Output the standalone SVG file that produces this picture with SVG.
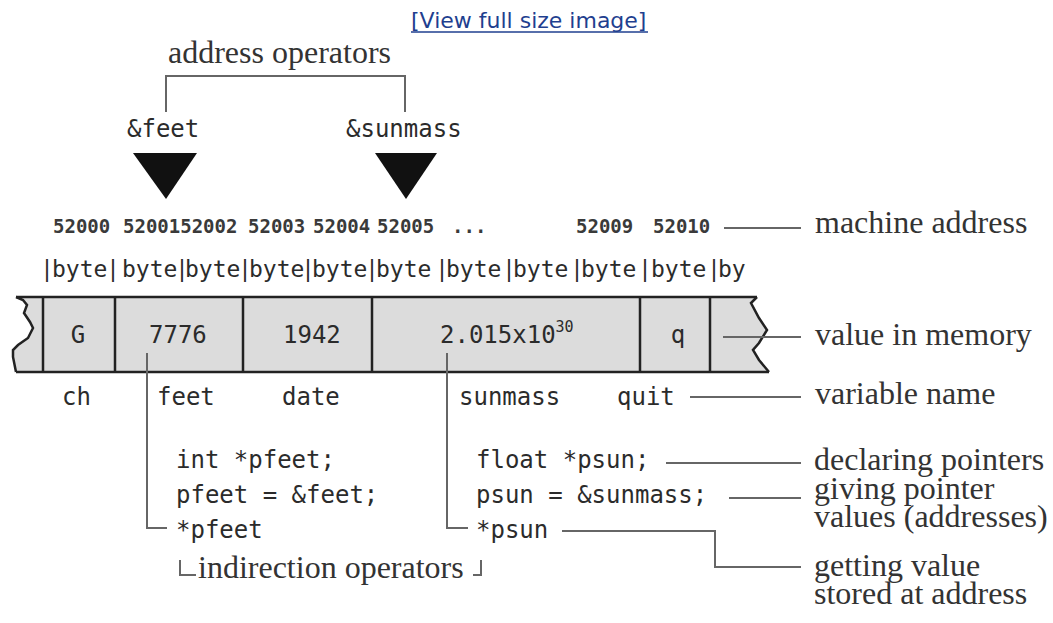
<svg xmlns="http://www.w3.org/2000/svg" width="1053" height="623" viewBox="0 0 1053 623">
<style>
.serif{font-family:"Liberation Serif","Times New Roman",serif;font-size:32px;fill:#333}
.mono{font-family:"DejaVu Sans Mono","Liberation Mono",monospace;font-size:24px;fill:#2b2b2b}
.addr{font-family:"DejaVu Sans Mono","Liberation Mono",monospace;font-size:19px;font-weight:bold;fill:#3a3a3a}
.byte{font-family:"DejaVu Sans Mono","Liberation Mono",monospace;font-size:23px;fill:#2b2b2b}
.bar{font-family:"Liberation Sans",Arial,sans-serif}
.link{font-family:"DejaVu Sans","Verdana",sans-serif;font-size:22px;fill:#1f3f8f}
.ln{fill:none;stroke:#666;stroke-width:2}
.cell{fill:none;stroke:#222;stroke-width:2.5}
</style>
<rect width="1053" height="623" fill="#fff"/>

<g id="link">
<text class="link" x="411" y="28">[View full size image]</text>
<line x1="411" y1="32" x2="648" y2="32" stroke="#1f3f8f" stroke-width="1.5"/>
</g>

<g id="address-operators">
<text class="serif" x="168" y="63">address operators</text>
<text class="mono" x="127" y="137">&amp;feet</text>
<text class="mono" x="346" y="137">&amp;sunmass</text>
<polygon points="133,153 197,153 166,199" fill="#111"/>
<polygon points="375,153 437,153 406,199" fill="#111"/>
</g>

<g id="addresses">
<text class="addr" y="233"><tspan x="53">52000</tspan><tspan x="123">5200152002</tspan><tspan x="248">52003</tspan><tspan x="313">52004</tspan><tspan x="377">52005</tspan><tspan x="452">...</tspan><tspan x="576">52009</tspan><tspan x="653">52010</tspan></text>
<text class="serif" x="815" y="233">machine address</text>
</g>

<g id="bytes">
<text class="byte" y="277"><tspan class="bar" x="44">|</tspan><tspan x="52">byte</tspan><tspan class="bar" x="110">|</tspan><tspan x="122">byte</tspan><tspan class="bar" x="179">|</tspan><tspan x="185">byte</tspan><tspan class="bar" x="242">|</tspan><tspan x="249">byte</tspan><tspan class="bar" x="305">|</tspan><tspan x="312">byte</tspan><tspan class="bar" x="369">|</tspan><tspan x="376">byte</tspan><tspan class="bar" x="439">|</tspan><tspan x="446">byte</tspan><tspan class="bar" x="506">|</tspan><tspan x="513">byte</tspan><tspan class="bar" x="574">|</tspan><tspan x="581">byte</tspan><tspan class="bar" x="642">|</tspan><tspan x="651">byte</tspan><tspan class="bar" x="711">|</tspan><tspan x="718">by</tspan></text>
</g>

<g id="memory">
<polygon points="16,297 23,300 27,305 24,313 30,322 33,328 28,338 18,345 13,350 13,357 16,372 769,372 759,360 753,350 759,343 767,330 759,318 751,303 757,297" fill="#dcdcdc"/>
<line class="cell" x1="16" y1="297" x2="757" y2="297"/>
<line class="cell" x1="16" y1="372" x2="769" y2="372"/>
<polyline class="cell" points="16,297 23,300 27,305 24,313 30,322 33,328 28,338 18,345 13,350 13,357 16,372"/>
<polyline class="cell" points="757,297 751,303 759,318 767,330 759,343 753,350 759,360 769,372"/>
<line class="cell" x1="43" y1="297" x2="43" y2="372"/>
<line class="cell" x1="115" y1="297" x2="115" y2="372"/>
<line class="cell" x1="243" y1="297" x2="243" y2="372"/>
<line class="cell" x1="372" y1="297" x2="372" y2="372"/>
<line class="cell" x1="640" y1="297" x2="640" y2="372"/>
<line class="cell" x1="710" y1="297" x2="710" y2="372"/>
<text class="mono" x="78" y="343" text-anchor="middle">G</text>
<text class="mono" x="149" y="343">7776</text>
<text class="mono" x="283" y="343">1942</text>
<text class="mono" x="440" y="343">2.015x10<tspan font-size="15" dy="-11">30</tspan></text>
<text class="mono" x="678" y="343" text-anchor="middle">q</text>
<text class="serif" x="815" y="345">value in memory</text>
</g>

<g id="names">
<text class="mono" x="62" y="405">ch</text>
<text class="mono" x="157" y="405">feet</text>
<text class="mono" x="282" y="405">date</text>
<text class="mono" x="459" y="405">sunmass</text>
<text class="mono" x="617" y="405">quit</text>
<text class="serif" x="815" y="404">variable name</text>
</g>

<g id="code">
<text class="mono" x="176" y="468">int *pfeet;</text>
<text class="mono" x="176" y="503">pfeet = &amp;feet;</text>
<text class="mono" x="176" y="538">*pfeet</text>
<text class="mono" x="476" y="468">float *psun;</text>
<text class="mono" x="476" y="503">psun = &amp;sunmass;</text>
<text class="mono" x="476" y="538">*psun</text>
<text class="serif" x="198" y="578">indirection operators</text>
</g>

<g id="labels">
<text class="serif" x="814" y="470">declaring pointers</text>
<text class="serif"><tspan x="814" y="499">giving pointer</tspan><tspan x="814" y="527">values (addresses)</tspan></text>
<text class="serif"><tspan x="814" y="576">getting value</tspan><tspan x="814" y="604">stored at address</tspan></text>
</g>

<g id="connectors">
<polyline class="ln" points="166,112 166,76 405,76 405,112"/>
<line class="ln" x1="724" y1="228" x2="801" y2="228"/>
<line class="ln" x1="723" y1="337" x2="801" y2="337"/>
<line class="ln" x1="690" y1="397" x2="801" y2="397"/>
<polyline class="ln" points="147,353 147,528 167,528"/>
<polyline class="ln" points="447,353 447,528 468,528"/>
<line class="ln" x1="666" y1="463" x2="801" y2="463"/>
<line class="ln" x1="729" y1="498" x2="801" y2="498"/>
<polyline class="ln" points="562,531 715,531 715,567 801,567"/>
<polyline class="ln" points="180,560 180,575 196,575"/>
<polyline class="ln" points="473,575 481,575 481,560"/>
</g>
</svg>
